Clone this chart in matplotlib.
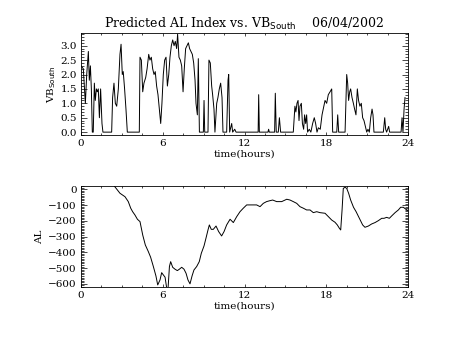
import numpy as np
import matplotlib
matplotlib.use('Agg')
import matplotlib.pyplot as plt
from matplotlib.ticker import MultipleLocator

# VB_South (top panel), hours vs value
vb_time = [0.00, 0.17, 0.32, 0.42, 0.54, 0.61, 0.69, 0.76, 0.83, 0.90, 0.98, 1.05,
           1.13, 1.20, 1.27, 1.35, 1.44, 1.54, 1.61,
           2.25, 2.32, 2.42, 2.52, 2.62, 2.74, 2.86, 2.94, 3.03, 3.10, 3.20, 3.30, 3.40,
           4.28, 4.33, 4.43, 4.53, 4.62, 4.75, 4.85, 4.97, 5.06, 5.16, 5.26, 5.36, 5.45,
           5.55, 5.65, 5.75, 5.85, 5.94, 6.04, 6.14, 6.24, 6.34, 6.44, 6.53, 6.63, 6.73,
           6.83, 6.92, 7.02, 7.09, 7.19, 7.29, 7.39, 7.49, 7.58, 7.68, 7.78, 7.88, 7.97,
           8.07, 8.17, 8.27, 8.37, 8.44, 8.54, 8.61, 8.69,
           8.98, 9.03, 9.08, 9.32, 9.39, 9.49, 9.59, 9.66, 9.76, 9.83, 9.96, 10.05, 10.15,
           10.25, 10.35, 10.42, 10.69, 10.79, 10.84, 10.91, 11.06, 11.13, 11.28, 11.38,
           13.00, 13.04, 13.09, 13.72, 13.77, 13.82,
           14.21, 14.26, 14.33, 14.48, 14.56, 14.65,
           15.58, 15.70, 15.77, 15.85, 15.93, 16.00, 16.07, 16.17, 16.25, 16.34, 16.41,
           16.49, 16.56, 16.63, 16.75, 16.87, 17.00, 17.12, 17.22, 17.32, 17.42, 17.56,
           17.69, 17.78, 17.91, 18.03, 18.15, 18.28, 18.40, 18.47,
           18.77, 18.84, 18.91, 19.38, 19.50, 19.57, 19.64, 19.72, 19.79, 19.89, 19.99,
           20.08, 20.18, 20.28, 20.37, 20.47, 20.57, 20.67, 20.77, 20.87, 20.97, 21.06,
           21.16, 21.26, 21.36, 21.43, 21.50,
           22.19, 22.29, 22.36, 22.43, 22.58, 22.65,
           23.49, 23.56, 23.63, 23.71, 23.78]
vb_value = [2.3, 2.2, 1.0, 2.0, 2.8, 1.8, 2.3, 1.5, 0.0, 0.0, 1.7, 1.1,
            1.5, 1.4, 1.5, 0.5, 1.5, 0.3, 0.0,
            0.0, 1.2, 1.7, 1.0, 0.9, 1.5, 2.7, 3.05, 2.0, 2.1, 1.5, 0.8, 0.0,
            0.0, 2.6, 2.5, 1.4, 1.7, 1.9, 2.2, 2.7, 2.5, 2.6, 2.2, 2.0, 2.1,
            1.6, 1.3, 0.8, 0.3, 1.0, 2.0, 2.5, 2.6, 1.6, 2.0, 2.6, 3.0, 3.2,
            3.0, 3.15, 2.9, 3.4, 2.6, 2.5, 2.3, 1.4, 2.2, 2.9, 3.0, 3.1, 2.9,
            2.8, 2.7, 2.4, 1.8, 1.0, 0.6, 2.55, 0.0,
            0.0, 1.1, 0.0, 0.0, 2.5, 2.4, 1.6, 1.3, 0.8, 0.0, 1.0, 1.2, 1.5,
            1.7, 1.2, 0.0, 0.0, 1.8, 2.0, 0.0, 0.3, 0.0, 0.1, 0.0,
            0.0, 1.3, 0.0, 0.0, 0.1, 0.0,
            0.0, 1.35, 0.0, 0.0, 0.5, 0.0,
            0.0, 0.9, 0.7, 1.0, 1.1, 0.4, 0.9, 1.0, 0.3, 0.1, 0.6,
            0.3, 0.6, 0.0, 0.1, 0.0, 0.3, 0.5, 0.3, 0.0, 0.15, 0.1,
            0.6, 0.8, 1.1, 1.0, 1.3, 1.4, 1.5, 0.0,
            0.0, 0.6, 0.0, 0.0, 2.0, 1.7, 1.1, 1.4, 1.5, 1.2, 1.0,
            0.8, 0.6, 1.5, 1.1, 0.9, 1.0, 0.5, 0.4, 0.2, 0.0, 0.1,
            0.0, 0.5, 0.8, 0.6, 0.0,
            0.0, 0.5, 0.1, 0.0, 0.2, 0.0,
            0.0, 0.5, 0.0, 0.8, 1.2]

# predicted AL index (bottom panel)
al_time = [2.47, 2.86, 3.23, 3.47, 3.65, 3.79, 3.96, 4.14, 4.33, 4.53, 4.72, 4.94,
           5.11, 5.31, 5.50, 5.63, 5.80, 5.92, 6.04, 6.17, 6.29, 6.39, 6.49, 6.58,
           6.73, 6.90, 7.07, 7.22, 7.39, 7.56, 7.71, 7.85, 8.00, 8.15, 8.29, 8.49,
           8.68, 8.83, 9.03, 9.17, 9.32, 9.42, 9.56, 9.71, 9.91, 10.10, 10.32, 10.50,
           10.69, 10.94, 11.18, 11.43, 11.67, 11.91, 12.16, 12.53, 12.89, 13.14,
           13.38, 13.62, 13.87, 14.07, 14.36, 14.73, 15.10, 15.34, 15.58, 15.83,
           16.07, 16.32, 16.56, 16.81, 17.05, 17.30, 17.54, 17.91, 18.15, 18.40,
           18.64, 18.81, 18.96, 19.06, 19.16, 19.25, 19.38, 19.50, 19.64, 19.79,
           20.00, 20.19, 20.43, 20.67, 20.84, 21.09, 21.33, 21.58, 21.82, 22.07,
           22.24, 22.43, 22.63, 22.80, 23.05, 23.29, 23.46, 23.66, 23.85, 24.00]
al_value = [18, -25, -47, -78, -120, -142, -163, -190, -205, -290, -353, -395,
            -431, -490, -550, -607, -575, -529, -543, -558, -628, -628, -490, -459,
            -495, -507, -516, -507, -495, -507, -533, -575, -600, -550, -512, -490,
            -459, -406, -359, -311, -258, -226, -254, -254, -233, -268, -296, -268,
            -226, -190, -211, -173, -142, -120, -99, -99, -99, -110,
            -89, -78, -72, -68, -78, -78, -63, -68, -78, -89,
            -110, -120, -131, -131, -148, -142, -148, -152, -173, -195,
            -209, -226, -247, -258, -131, 6, 13, 6, -25, -68,
            -114, -142, -184, -226, -241, -233, -220, -211, -199, -184,
            -184, -178, -184, -169, -148, -131, -114, -114, -127, -135]

plt.rcParams['font.family'] = 'DejaVu Serif'
plt.rcParams['font.size'] = 7.5

fig = plt.figure(figsize=(4.53, 3.4), dpi=100)
ax1 = fig.add_axes([0.1788, 0.6029, 0.7219, 0.300])
ax2 = fig.add_axes([0.1788, 0.1559, 0.7219, 0.297])

ax1.plot(vb_time, vb_value, color='black', lw=0.7)
ax1.set_xlim(0, 24)
ax1.set_ylim(-0.1, 3.44)
ax1.yaxis.set_major_locator(MultipleLocator(0.5))
ax1.yaxis.set_minor_locator(MultipleLocator(0.1))
ax1.yaxis.set_major_formatter(matplotlib.ticker.FormatStrFormatter('%.1f'))
ax1.set_ylabel('VB$_{\\mathrm{South}}$', labelpad=2)
ax1.set_title('Predicted AL Index vs. VB$_{\\mathrm{South}}$    06/04/2002',
              fontsize=9, pad=4)

ax2.plot(al_time, al_value, color='black', lw=0.7)
ax2.set_xlim(0, 24)
ax2.set_ylim(-620, 21)
ax2.yaxis.set_major_locator(MultipleLocator(100))
ax2.yaxis.set_minor_locator(MultipleLocator(10))
ax2.set_ylabel('AL', labelpad=3)

for ax in (ax1, ax2):
    ax.xaxis.set_major_locator(MultipleLocator(6))
    ax.xaxis.set_minor_locator(MultipleLocator(1.5))
    ax.set_xlabel('time(hours)', labelpad=1)
    ax.tick_params(which='both', direction='in', top=True, right=True,
                   width=0.5, pad=3)
    ax.tick_params(axis='x', which='major', length=2.5)
    ax.tick_params(axis='x', which='minor', length=1.2)
    ax.tick_params(axis='y', which='major', length=4.5)
    ax.tick_params(axis='y', which='minor', length=2.2)
    for s in ax.spines.values():
        s.set_linewidth(0.6)

fig.savefig('out.png', dpi=100)
